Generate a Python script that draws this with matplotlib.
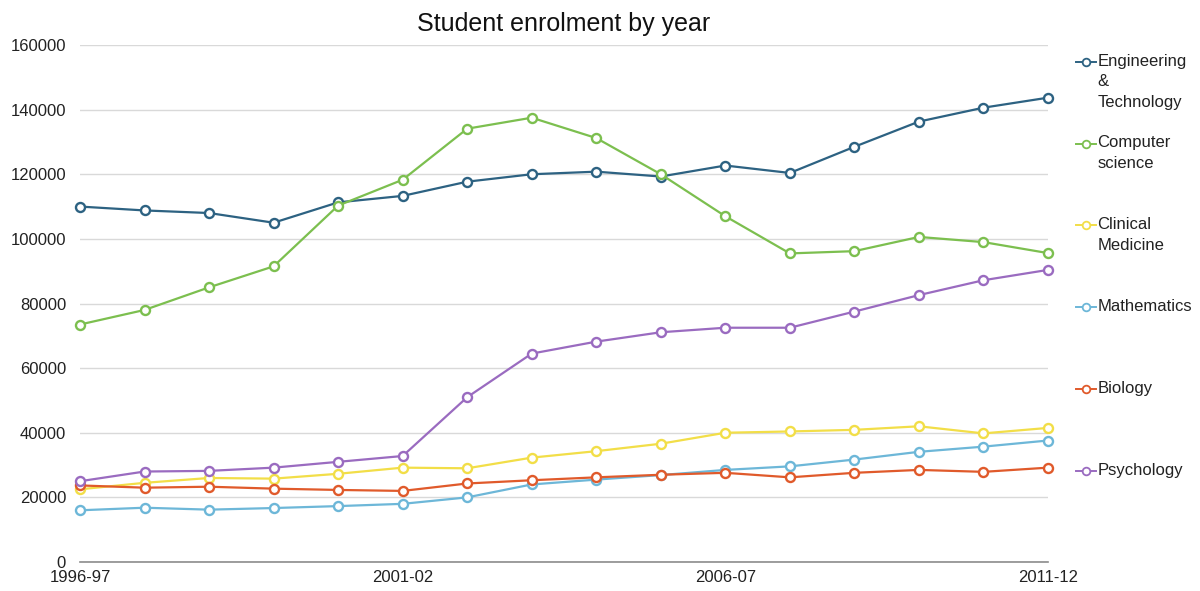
import matplotlib
matplotlib.use("Agg")
import matplotlib.pyplot as plt
from matplotlib.lines import Line2D

plt.rcParams['font.family'] = ['Liberation Sans', 'DejaVu Sans']

years = ["1996-97", "1997-98", "1998-99", "1999-00", "2000-01", "2001-02", "2002-03",
         "2003-04", "2004-05", "2005-06", "2006-07", "2007-08", "2008-09", "2009-10",
         "2010-11", "2011-12"]

engineering = [110000, 108800, 108000, 105000, 111300, 113300, 117700, 120000,
               120800, 119300, 122700, 120400, 128500, 136300, 140600, 143700]
computer_science = [73500, 78000, 85000, 91500, 110300, 118300, 134100, 137500,
                    131200, 120000, 107000, 95500, 96200, 100600, 99000, 95600]
clinical_medicine = [22500, 24500, 26000, 25800, 27300, 29200, 29000, 32300,
                     34300, 36600, 40000, 40400, 40900, 42000, 39800, 41500]
mathematics = [16000, 16800, 16200, 16700, 17300, 18000, 20000, 24000,
               25500, 26900, 28500, 29600, 31700, 34100, 35700, 37600]
biology = [23700, 23000, 23300, 22700, 22300, 22000, 24300, 25300,
           26200, 27000, 27600, 26200, 27600, 28500, 27900, 29200]
psychology = [25000, 28000, 28200, 29200, 31000, 32800, 51000, 64500,
              68200, 71100, 72500, 72500, 77500, 82600, 87200, 90400]

series_labels = ["Engineering\n&\nTechnology", "Computer\nscience", "Clinical\nMedicine",
                 "Mathematics", "Biology", "Psychology"]
series_values = [engineering, computer_science, clinical_medicine, mathematics, biology, psychology]
colors = ["#2D6282", "#7CBF4F", "#F2DE48", "#6DB7D8", "#E05A2B", "#9A6BC0"]

yticks = [0, 20000, 40000, 60000, 80000, 100000, 120000, 140000, 160000]
xtick_idx = [0, 5, 10, 15]

fig = plt.figure(figsize=(12, 5.91), dpi=100)
ax = fig.add_axes([80/1200, 1 - 562/591, (1048-80)/1200, (562-45)/591])

x = list(range(len(years)))
for vals, col, lab in zip(series_values, colors, series_labels):
    ax.plot(x, vals, color=col, lw=1.6, marker='o', markersize=6.5,
            markerfacecolor='white', markeredgecolor=col, markeredgewidth=1.7,
            label=lab, clip_on=False, zorder=3)

ax.set_xlim(0, len(years) - 1)
ax.set_ylim(0, 160000)
ax.set_yticks(yticks)
ax.set_yticklabels([str(v) for v in yticks])
ax.set_xticks(xtick_idx)
ax.set_xticklabels([years[i] for i in xtick_idx])
ax.tick_params(axis='both', length=0, labelsize=12, colors='#222222')
ax.tick_params(axis='y', pad=10)
ax.tick_params(axis='x', pad=6)

ax.grid(axis='y', color='#D9D9D9', lw=1)
ax.set_axisbelow(True)
for s in ['top', 'right', 'left']:
    ax.spines[s].set_visible(False)
ax.spines['bottom'].set_color('#8C8C8C')
ax.spines['bottom'].set_linewidth(1.2)

ax.set_title("Student enrolment by year", fontsize=18, color='#111111', pad=10)

# manual legend
leg_y = [0.967, 0.809, 0.651, 0.493, 0.335, 0.176]
for yy, col, lab in zip(leg_y, colors, series_labels):
    ax.add_line(Line2D([1.029, 1.050], [yy, yy], transform=ax.transAxes, color=col,
                       lw=1.4, clip_on=False))
    ax.add_line(Line2D([1.0395], [yy], transform=ax.transAxes, color=col, marker='o',
                       markersize=5.5, markerfacecolor='white', markeredgecolor=col,
                       markeredgewidth=1.3, clip_on=False))
    ax.text(1.051, yy + 0.016, lab, transform=ax.transAxes, ha='left', va='top',
            fontsize=12, color='#222222', linespacing=1.45)

fig.savefig("out.png", dpi=100, facecolor='white')
